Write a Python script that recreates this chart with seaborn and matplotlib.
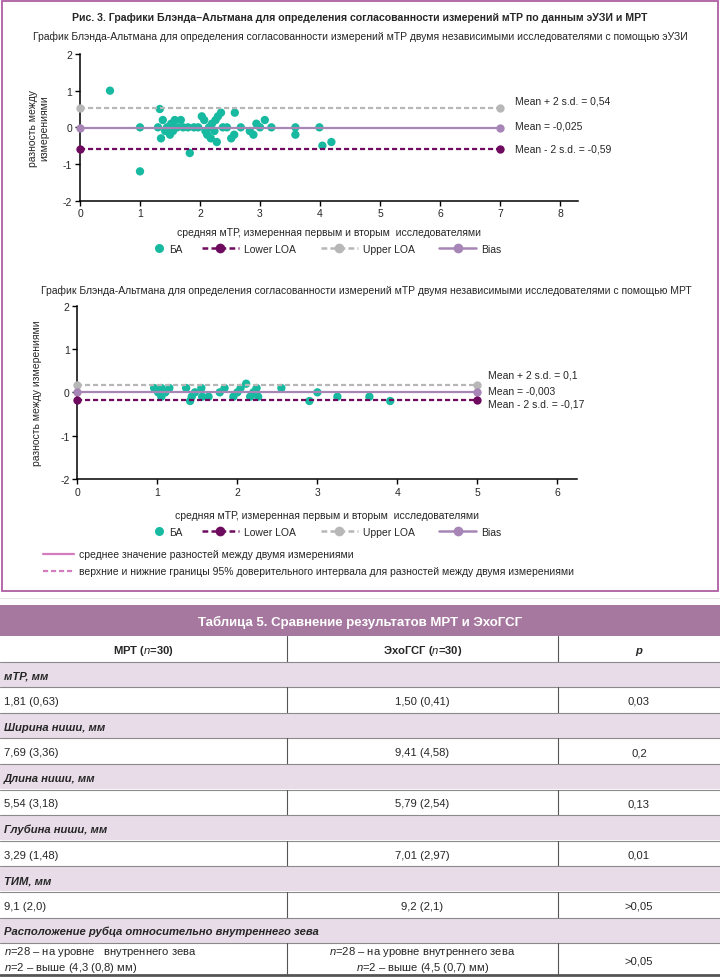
import numpy as np
import pandas as pd
import seaborn as sns
import matplotlib.pyplot as plt
from matplotlib.lines import Line2D
from matplotlib.patches import Rectangle

# ---- Bland-Altman, эУЗИ ----
uzi_mean = [0.5, 1.0, 1.0, 1.3, 1.33, 1.35, 1.38, 1.42, 1.45, 1.5, 1.52, 1.55, 1.58,
            1.62, 1.68, 1.72, 1.8, 1.83, 1.9, 1.97, 2.03, 2.07, 2.09, 2.12, 2.15,
            2.18, 2.2, 2.24, 2.26, 2.28, 2.3, 2.35, 2.38, 2.45, 2.52, 2.57, 2.58,
            2.68, 2.83, 2.89, 2.94, 3.0, 3.08, 3.19, 3.59, 3.59, 3.99, 4.04, 4.19]
uzi_diff = [1.0, 0.0, -1.2, 0.0, 0.5, -0.3, 0.2, -0.1, 0.0, -0.2, 0.1, -0.1, 0.2,
            0.0, 0.2, 0.0, 0.0, -0.7, 0.0, 0.0, 0.3, 0.2, -0.1, -0.2, 0.0,
            -0.3, 0.1, -0.1, 0.2, -0.4, 0.3, 0.4, 0.0, 0.0, -0.3, -0.2, 0.4,
            0.0, -0.1, -0.2, 0.1, 0.0, 0.2, 0.0, 0.0, -0.2, 0.0, -0.5, -0.4]
uzi_bias, uzi_upper, uzi_lower = -0.025, 0.54, -0.59
uzi_line_x = [0, 7]
uzi_xticks = [0, 1, 2, 3, 4, 5, 6, 7, 8]
uzi_texts = ['Mean + 2 s.d. = 0,54', 'Mean = -0,025', 'Mean - 2 s.d. = -0,59']

# ---- Bland-Altman, МРТ ----
mrt_mean = [0.96, 1.01, 1.05, 1.05, 1.1, 1.15, 1.36, 1.41, 1.43, 1.47, 1.55, 1.56,
            1.64, 1.78, 1.84, 1.95, 2.0, 2.04, 2.11, 2.16, 2.2, 2.24, 2.26,
            2.55, 2.9, 3.0, 3.25, 3.65, 3.91]
mrt_diff = [0.1, 0.0, 0.1, -0.1, 0.0, 0.1, 0.1, -0.2, -0.1, 0.0, 0.1, -0.1,
            -0.1, 0.0, 0.1, -0.1, 0.0, 0.1, 0.2, -0.1, 0.0, 0.1, -0.1,
            0.1, -0.2, 0.0, -0.1, -0.1, -0.2]
mrt_bias, mrt_upper, mrt_lower = -0.003, 0.164, -0.17
mrt_line_x = [0, 5]
mrt_xticks = [0, 1, 2, 3, 4, 5, 6]
mrt_texts = ['Mean + 2 s.d. = 0,1', 'Mean = -0,003', 'Mean - 2 s.d. = -0,17']

yticks = [-2, -1, 0, 1, 2]
legend_labels = ['БА', 'Lower LOA', 'Upper LOA', 'Bias']

# ---- Таблица 5 ----
table_title = 'Таблица 5. Сравнение результатов МРТ и ЭхоГСГ'
col_headers = ['МРТ ($n$=30)', 'ЭхоГСГ ($n$=30)', 'p']
sections = ['мТР, мм', 'Ширина ниши, мм', 'Длина ниши, мм', 'Глубина ниши, мм',
            'ТИМ, мм', 'Расположение рубца относительно внутреннего зева']
mrt_vals = ['1,81 (0,63)', '7,69 (3,36)', '5,54 (3,18)', '3,29 (1,48)', '9,1 (2,0)',
            '$n$=28 – на уровне   внутреннего зева\n$n$=2 – выше (4,3 (0,8) мм)']
echo_vals = ['1,50 (0,41)', '9,41 (4,58)', '5,79 (2,54)', '7,01 (2,97)', '9,2 (2,1)',
             '$n$=28 – на уровне внутреннего зева\n$n$=2 – выше (4,5 (0,7) мм)']
p_vals = ['0,03', '0,2', '0,13', '0,01', '>0,05', '>0,05']

teal = '#17B9A0'
c_lower = '#6E0B5F'
c_upper = '#B7B7B7'
c_bias = '#A785B6'
c_frame = '#AE5FA2'
c_pink = '#D37DBE'
c_head = '#A7789F'
c_shade = '#E8DCE8'

sns.set_style('ticks')
plt.rcParams['font.family'] = ['Liberation Sans', 'DejaVu Sans']
plt.rcParams['axes.unicode_minus'] = False
plt.rcParams['mathtext.fontset'] = 'custom'
plt.rcParams['mathtext.rm'] = 'Liberation Sans'
plt.rcParams['mathtext.it'] = 'Liberation Sans:italic'
plt.rcParams['mathtext.bf'] = 'Liberation Sans:bold'

W, H = 720, 978
fig = plt.figure(figsize=(W / 100, H / 100), dpi=100)

bg = fig.add_axes([0, 0, 1, 1])
bg.set_xlim(0, W)
bg.set_ylim(H, 0)
bg.axis('off')

FS = 7.5
TFS = 8.1
dash = (0, (2.3, 1.3))


def ba_panel(left, right, bottom, top, xs, ys, bias, upper, lower, line_x, xticks, xmax,
             texts, text_x, text_y, ylabel, ylab_right, xlab_y, leg_y):
    ax = fig.add_axes([left / W, 1 - bottom / H, (right - left) / W, (bottom - top) / H])
    sns.scatterplot(x=xs, y=ys, ax=ax, color=teal, s=36, edgecolor='none', legend=False, zorder=3)
    line_kw = dict(lw=1.6, marker='o', ms=6, mew=0, zorder=4, clip_on=False)
    ax.plot(line_x, [upper, upper], color=c_upper, ls=dash, **line_kw)
    ax.plot(line_x, [bias, bias], color=c_bias, **line_kw)
    ax.plot(line_x, [lower, lower], color=c_lower, ls=dash, **line_kw)
    for t, ty in zip(texts, text_y):
        ax.text(text_x, ty, t, fontsize=FS, va='center', ha='left')
    ax.set_xlim(0, xmax)
    ax.set_ylim(-2, 2)
    ax.set_xticks(xticks)
    ax.set_yticks(yticks)
    ax.tick_params(labelsize=FS, length=3.5, width=1, color='black', pad=2)
    sns.despine(ax=ax)
    for s in ['left', 'bottom']:
        ax.spines[s].set_linewidth(1.1)
        ax.spines[s].set_color('black')
    ax.set_xlabel('средняя мТР, измеренная первым и вторым  исследователями', fontsize=FS)
    ax.xaxis.set_label_coords(0.5, xlab_y)
    ax.set_ylabel(ylabel, fontsize=FS, linespacing=1.1)
    ax.yaxis.set_label_coords((ylab_right - left) / (right - left), 0.5)

    # legend: point entry kept tight, line entries separately
    h_pt = [Line2D([], [], ls='none', marker='o', color=teal, ms=6.5, mew=0)]
    h_ln = [
        Line2D([], [], color=c_lower, lw=1.8, ls=dash, marker='o', ms=7, mew=0),
        Line2D([], [], color=c_upper, lw=1.8, ls=dash, marker='o', ms=7, mew=0),
        Line2D([], [], color=c_bias, lw=1.8, marker='o', ms=7, mew=0),
    ]
    leg1 = ax.legend(h_pt, legend_labels[:1], loc='center left',
                     bbox_to_anchor=((154 - left) / (right - left), leg_y),
                     frameon=False, fontsize=FS, handlelength=0.9, handletextpad=0.6,
                     borderpad=0, borderaxespad=0)
    ax.add_artist(leg1)
    ax.legend(h_ln, legend_labels[1:], ncol=3, loc='center left',
              bbox_to_anchor=((202 - left) / (right - left), leg_y),
              frameon=False, fontsize=FS, handlelength=3.55, handletextpad=0.5,
              columnspacing=2.35, borderpad=0, borderaxespad=0)
    return ax


# frame around the figure
bg.add_patch(Rectangle((2, 2), 716, 589.5, fill=False, edgecolor=c_frame, lw=1.3))
bg.text(360, 18, 'Рис. 3. Графики Блэнда–Альтмана для определения согласованности измерений мТР по данным эУЗИ и МРТ',
        ha='center', va='center', fontsize=7.55, fontweight='bold')
bg.text(360, 37, 'График Блэнда-Альтмана для определения согласованности измерений мТР двумя независимыми исследователями с помощью эУЗИ',
        ha='center', va='center', fontsize=7.45)
bg.text(366, 291, 'График Блэнда-Альтмана для определения согласованности измерений мТР двумя независимыми исследователями с помощью МРТ',
        ha='center', va='center', fontsize=7.45)

ba_panel(80, 578, 201.7, 55, uzi_mean, uzi_diff,
         uzi_bias, uzi_upper, uzi_lower, uzi_line_x, uzi_xticks, 8.3, uzi_texts,
         7.25, [0.74, 0.05, -0.57], 'разность между\nизмерениями', 49, -0.18, -0.33)

ba_panel(77.3, 576.7, 480, 306.7, mrt_mean, mrt_diff,
         mrt_bias, mrt_upper, mrt_lower, mrt_line_x, mrt_xticks, 6.24, mrt_texts,
         5.13, [0.42, 0.05, -0.25], 'разность между измерениями', 42.5, -0.179, -0.306)

# notes under the plots
bg.plot([43, 74], [555, 555], color=c_pink, lw=1.6)
bg.plot([43, 74], [572, 572], color=c_pink, lw=1.6, ls=dash)
bg.text(79, 555, 'среднее значение разностей между двумя измерениями', fontsize=FS, va='center')
bg.text(79, 572, 'верхние и нижние границы 95% доверительного интервала для разностей между двумя измерениями',
        fontsize=FS, va='center')

# ---- table ----
bg.plot([0, W], [599, 599], color='#E6E6E6', lw=0.8)
top = 606
bg.add_patch(Rectangle((0, top), W, 30.5, color=c_head, lw=0))
bg.text(360, top + 20, table_title, color='white', fontweight='bold', fontsize=9.5,
        ha='center', va='baseline')
edges = [0, 287, 558, W]
centers = [(edges[i] + edges[i + 1]) / 2 for i in range(3)]
rh = 25.6
y = 637


def cell(x, yc, t, ha, **kw):
    if '\n' in t:
        bg.text(x, yc, t, ha=ha, va='center', fontsize=TFS, linespacing=1.25,
                multialignment=ha, **kw)
    else:
        bg.text(x, yc + 4, t, ha=ha, va='baseline', fontsize=TFS, **kw)


for i, t in enumerate(col_headers):
    style = 'italic' if t == 'p' else 'normal'
    cell(centers[i], y + rh / 2, t, 'center', fontweight='bold', fontstyle=style)
for xe in edges[1:3]:
    bg.plot([xe, xe], [y, y + rh], color='#555555', lw=0.8)
y += rh
for k, name in enumerate(sections):
    bg.plot([0, W], [y, y], color='#8A8A8A', lw=0.8)
    bg.add_patch(Rectangle((0, y + 0.6), W, rh - 1.2, color=c_shade, lw=0))
    cell(4, y + rh / 2, name, 'left', fontweight='bold', fontstyle='italic')
    y += rh
    h = rh if k < len(sections) - 1 else 32
    bg.plot([0, W], [y, y], color='#8A8A8A', lw=0.8)
    cell(4, y + h / 2, mrt_vals[k], 'left')
    cell(centers[1], y + h / 2, echo_vals[k], 'center')
    cell(centers[2], y + h / 2, p_vals[k], 'center')
    for xe in edges[1:3]:
        bg.plot([xe, xe], [y, y + h], color='#555555', lw=0.8)
    y += h
bg.plot([0, W], [y, y], color='#555555', lw=2)

fig.savefig('out.png', dpi=100)
